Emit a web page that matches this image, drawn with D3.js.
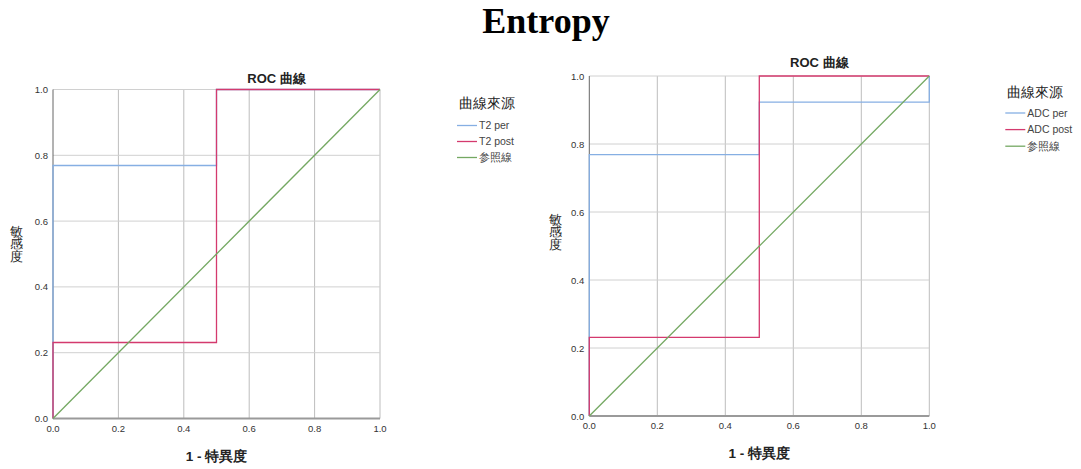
<!DOCTYPE html>
<html>
<head>
<meta charset="utf-8">
<script src="https://cdn.jsdelivr.net/npm/d3@7"></script>
<style>
  body { margin: 0; background: #fff; }
  svg { display: block; }
</style>
</head>
<body>
<div id="chart"></div>
<script>
// ROC values (13 positives -> steps of 1/13)
const axisTicks = [0, 0.2, 0.4, 0.6, 0.8, 1.0];
const seriesColors = ['#86afe3', '#d43a6e', '#74a862'];

const t2Names = ['T2 per', 'T2 post', '参照線'];
const t2PerX = [0, 0, 0.5, 0.5, 1];
const t2PerY = [0, 0.769, 0.769, 1, 1];
const t2PostX = [0, 0, 0.5, 0.5, 1];
const t2PostY = [0, 0.231, 0.231, 1, 1];

const adcNames = ['ADC per', 'ADC post', '参照線'];
const adcPerX = [0, 0, 0.5, 0.5, 1, 1];
const adcPerY = [0, 0.769, 0.769, 0.923, 0.923, 1];
const adcPostX = [0, 0, 0.5, 0.5, 1];
const adcPostY = [0, 0.231, 0.231, 1, 1];

const refX = [0, 1];
const refY = [0, 1];

const W = 1081, H = 469;
const svg = d3.select('#chart').append('svg').attr('width', W).attr('height', H);

svg.append('text')
  .attr('x', 546).attr('y', 33)
  .attr('text-anchor', 'middle')
  .attr('font-family', '"Liberation Serif", "Times New Roman", serif')
  .attr('font-weight', 'bold')
  .attr('font-size', 36)
  .attr('fill', '#000')
  .text('Entropy');

const zip = (xs, ys) => xs.map((x, i) => [x, ys[i]]);

function drawRoc(box, names, series) {
  const x = d3.scaleLinear().domain([0, 1]).range([box.left, box.right]);
  const y = d3.scaleLinear().domain([0, 1]).range([box.bottom, box.top]);
  const g = svg.append('g');
  const sans = '"Liberation Sans", Arial, sans-serif';

  // grid
  g.selectAll('line.gx').data(axisTicks.slice(1)).enter().append('line')
    .attr('x1', d => x(d)).attr('x2', d => x(d))
    .attr('y1', y(0)).attr('y2', y(1))
    .attr('stroke', '#bdbdbd').attr('stroke-width', 1);
  g.selectAll('line.gy').data(axisTicks.slice(1)).enter().append('line')
    .attr('x1', x(0)).attr('x2', x(1))
    .attr('y1', d => y(d)).attr('y2', d => y(d))
    .attr('stroke', '#d0d0d0').attr('stroke-width', 1);

  // axes lines
  g.append('line').attr('x1', x(0)).attr('x2', x(0)).attr('y1', y(0)).attr('y2', y(1))
    .attr('stroke', '#666').attr('stroke-width', 1);
  g.append('line').attr('x1', x(0)).attr('x2', x(1)).attr('y1', y(0)).attr('y2', y(0))
    .attr('stroke', '#9a9a9a').attr('stroke-width', 2);

  // tick labels
  g.selectAll('text.tx').data(axisTicks).enter().append('text')
    .attr('x', d => x(d)).attr('y', y(0) + 13)
    .attr('text-anchor', 'middle')
    .attr('font-family', sans).attr('font-size', 9.5).attr('fill', '#333')
    .text(d3.format('.1f'));
  g.selectAll('text.ty').data(axisTicks).enter().append('text')
    .attr('x', x(0) - 5).attr('y', d => y(d) + 3.5)
    .attr('text-anchor', 'end')
    .attr('font-family', sans).attr('font-size', 9.5).attr('fill', '#333')
    .text(d3.format('.1f'));

  // curves
  const line = d3.line().x(d => x(d[0])).y(d => y(d[1]));
  series.forEach((pts, i) => {
    g.append('path').datum(pts)
      .attr('d', line)
      .attr('fill', 'none')
      .attr('stroke', seriesColors[i])
      .attr('stroke-width', 1.3);
  });

  // titles
  g.append('text')
    .attr('x', (box.left + box.right) / 2 + 60).attr('y', box.top + box.titleDy)
    .attr('text-anchor', 'middle')
    .attr('font-family', sans).attr('font-size', 13).attr('font-weight', 'bold').attr('fill', '#222')
    .text('ROC 曲線');

  g.append('text')
    .attr('x', (box.left + box.right) / 2).attr('y', y(0) + 42)
    .attr('text-anchor', 'middle')
    .attr('font-family', sans).attr('font-size', 13.5).attr('font-weight', 'bold').attr('fill', '#222')
    .text('1 - 特異度');

  const yl = g.append('text')
    .attr('text-anchor', 'middle')
    .attr('font-family', sans).attr('font-size', 12.5).attr('fill', '#222');
  ['敏', '感', '度'].forEach((c, i) => {
    yl.append('tspan')
      .attr('x', box.left - box.yLabelDx)
      .attr('y', (box.top + box.bottom) / 2 - 6 + (i - 1) * 12.5 + box.yLabelDy)
      .text(c);
  });

  // legend
  const lg = g.append('g').attr('transform', `translate(${box.right + box.legendDx},${box.top})`);
  lg.append('text')
    .attr('x', 1.5).attr('y', box.legendTitleDy)
    .attr('font-family', sans).attr('font-size', 14).attr('fill', '#222')
    .text('曲線來源');
  names.forEach((n, i) => {
    const yy = box.legendRow0 + i * box.legendStep;
    lg.append('line').attr('x1', 0).attr('x2', 20).attr('y1', yy).attr('y2', yy)
      .attr('stroke', seriesColors[i]).attr('stroke-width', 1.3);
    lg.append('text')
      .attr('x', 22).attr('y', yy + 3.8)
      .attr('font-family', sans).attr('font-size', 10.5).attr('fill', '#444')
      .text(n);
  });
}

drawRoc(
  { left: 53, right: 380, top: 89.5, bottom: 418.5, titleDy: -7,
    yLabelDx: 37, yLabelDy: 0,
    legendDx: 77, legendTitleDy: 18.5, legendRow0: 36, legendStep: 16 },
  t2Names,
  [zip(t2PerX, t2PerY), zip(t2PostX, t2PostY), zip(refX, refY)]
);

drawRoc(
  { left: 589.3, right: 929.3, top: 76, bottom: 416, titleDy: -9,
    yLabelDx: 34, yLabelDy: -4,
    legendDx: 76, legendTitleDy: 20.7, legendRow0: 37, legendStep: 16.6 },
  adcNames,
  [zip(adcPerX, adcPerY), zip(adcPostX, adcPostY), zip(refX, refY)]
);
</script>
</body>
</html>
